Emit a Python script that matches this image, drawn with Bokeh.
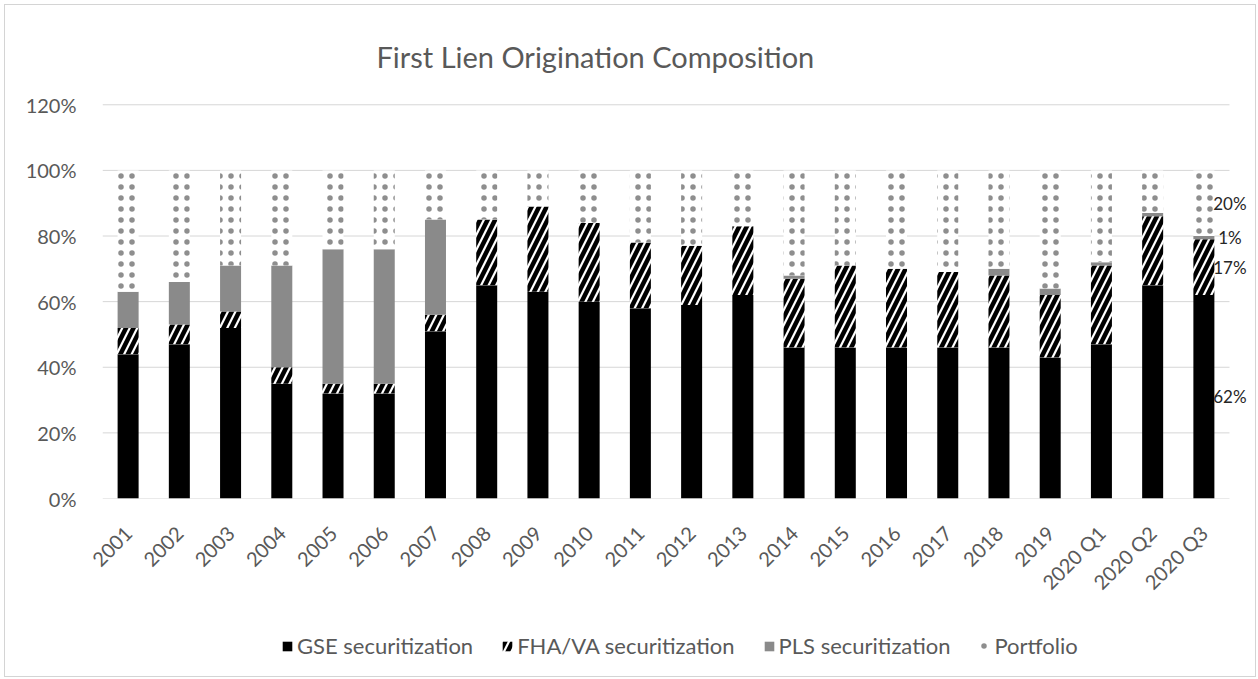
import math
from bokeh.plotting import figure
from bokeh.layouts import column
from bokeh.models import (ColumnDataSource, Range1d, FixedTicker, PrintfTickFormatter,
                          Legend, LegendItem, LabelSet)
from bokeh.core.properties import value
from bokeh.embed import file_html
from bokeh.resources import INLINE

categories = ["2001", "2002", "2003", "2004", "2005", "2006", "2007", "2008", "2009",
              "2010", "2011", "2012", "2013", "2014", "2015", "2016", "2017", "2018",
              "2019", "2020 Q1", "2020 Q2", "2020 Q3"]
gse = [44, 47, 52, 35, 32, 32, 51, 65, 63, 60, 58, 59, 62, 46, 46, 46, 46, 46, 43, 47, 65, 62]
fha_va = [8, 6, 5, 5, 3, 3, 5, 20, 26, 24, 20, 18, 21, 21, 25, 24, 23, 22, 19, 24, 21, 17]
pls = [11, 13, 14, 31, 41, 41, 29, 0, 0, 0, 0, 0, 0, 1, 0, 0, 0, 2, 2, 1, 1, 1]
portfolio = [37, 34, 29, 29, 24, 24, 15, 15, 11, 16, 22, 23, 17, 32, 29, 30, 31, 30, 36, 28, 13, 20]
series_names = ["GSE securitization", "FHA/VA securitization", "PLS securitization", "Portfolio"]
y_ticks = [0, 20, 40, 60, 80, 100, 120]

FONT = "Lato"
GREY_TXT = "#595959"

STYLES = dict(fill_color=["black", "white", "#8a8a8a", "white"],
              hatch_pattern=[" ", "/", " ", "."],
              hatch_color=["black", "black", "#8a8a8a", "#8e8e8e"],
              hatch_weight=[1, 4.5, 1, 5],
              hatch_scale=[10, 15, 10, 11])

n = len(categories)
xs = list(range(n))
src = ColumnDataSource(dict(x=xs, gse=gse, fha=fha_va, pls=pls, port=portfolio))
stackers = ["gse", "fha", "pls", "port"]

p = figure(width=1250, height=600, output_backend="svg", toolbar_location=None,
           x_range=Range1d(-0.5, 21.91), y_range=Range1d(0, 121),
           min_border_left=97, min_border_right=5, min_border_top=96, min_border_bottom=101,
           background_fill_color="white", border_fill_color="white",
           title="First Lien Origination Composition")
p.outline_line_color = None
p.title.text_font = FONT
p.title.text_font_size = "29px"
p.title.text_font_style = "normal"
p.title.text_color = GREY_TXT
p.title.align = "left"
p.title.offset = 274
p.title.standoff = 55

# horizontal gridlines spanning only the category area
p.segment(x0=[-0.5] * len(y_ticks), x1=[n - 0.5] * len(y_ticks), y0=y_ticks, y1=y_ticks,
          line_color="#d6d6d6", line_width=1)

renderers = p.vbar_stack(stackers, x="x", width=0.41, source=src, line_color=None, **STYLES)

# axes
p.xaxis.ticker = FixedTicker(ticks=xs)
p.xaxis.major_label_overrides = {i: c for i, c in enumerate(categories)}
p.xaxis.major_label_orientation = math.pi / 4
p.xaxis.axis_line_color = None
p.xaxis.major_tick_line_color = None
p.xaxis.minor_tick_line_color = None
p.xaxis.major_label_standoff = 25
p.yaxis.ticker = FixedTicker(ticks=y_ticks)
p.yaxis.formatter = PrintfTickFormatter(format="%d%%")
p.yaxis.axis_line_color = None
p.yaxis.major_tick_line_color = None
p.yaxis.minor_tick_line_color = None
p.yaxis.major_label_standoff = 20
for ax in (p.xaxis, p.yaxis):
    ax.major_label_text_font = FONT
    ax.major_label_text_font_size = "20px"
    ax.major_label_text_color = GREY_TXT

p.xgrid.visible = False
p.ygrid.visible = False

# data labels on last bar
last = n - 1
vals = [gse[last], fha_va[last], pls[last], portfolio[last]]
mids, acc = [], 0
for v in vals:
    mids.append(acc + v / 2)
    acc += v
lab_src = ColumnDataSource(dict(x=[last] * 4, y=mids, text=[f"{v}%" for v in vals]))
p.add_layout(LabelSet(x="x", y="y", text="text", source=lab_src, x_offset=26,
                      text_font=value(FONT), text_font_size="17px", text_color="#262626",
                      text_align="center", text_baseline="middle"))

# legend strip (separate figure below the chart; its bars lie far outside its view)
lf = figure(width=1250, height=71, output_backend="svg", toolbar_location=None,
            x_axis_type=None, y_axis_type=None,
            x_range=Range1d(1000, 1001), y_range=Range1d(1000, 1001),
            min_border=0, min_border_left=0, min_border_right=0, min_border_top=0,
            min_border_bottom=0, background_fill_color="white", border_fill_color="white")
lf.outline_line_color = None
lf.xgrid.visible = False
lf.ygrid.visible = False
leg_renderers = lf.vbar_stack(stackers, x="x", width=0.41, source=src, line_color=None, **STYLES)

legend = Legend(items=[LegendItem(label=nm, renderers=[r]) for nm, r in zip(series_names, leg_renderers)],
                orientation="horizontal", location=(179, 17),
                label_text_font=FONT, label_text_font_size="22px", label_text_color=GREY_TXT,
                glyph_width=12, glyph_height=12, label_standoff=4, spacing=28,
                border_line_color=None, background_fill_alpha=0, padding=5, margin=0)
lf.add_layout(legend, "center")

layout = column(p, lf, spacing=0,
                styles={"border": "1px solid #d4d4d4", "margin-left": "4px", "margin-top": "4px"})

open("out.html", "w").write(file_html(layout, INLINE))
